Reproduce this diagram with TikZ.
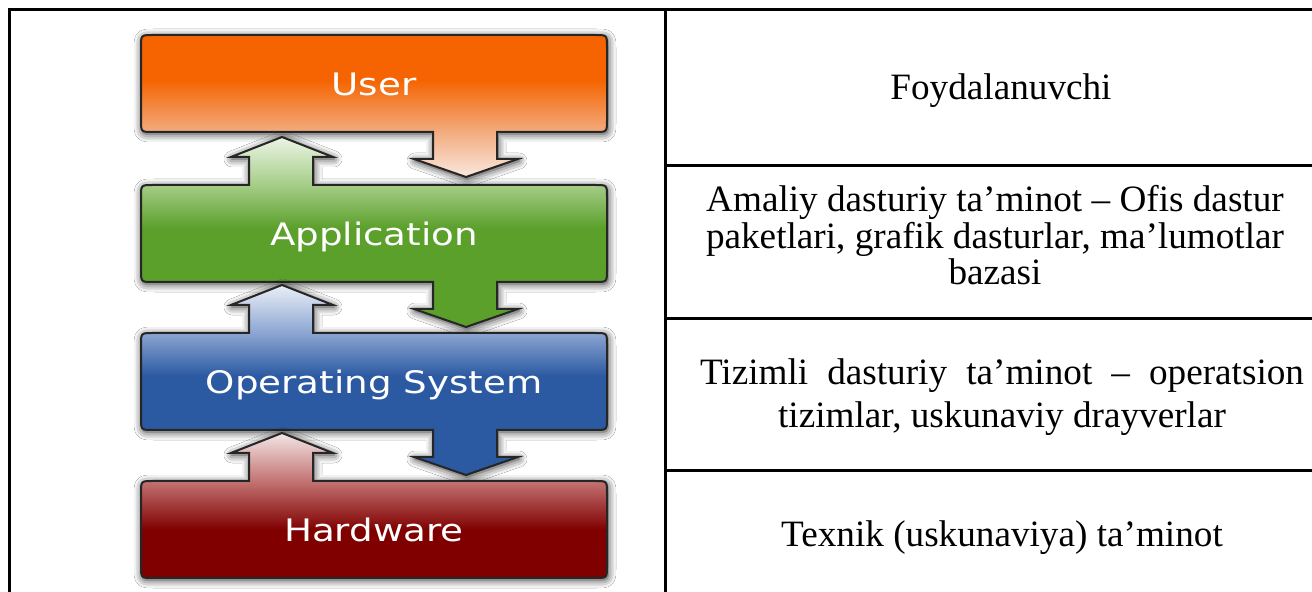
\documentclass[tikz,border=0pt]{standalone}
\usepackage{fontspec}
\setmainfont{Liberation Serif}
\newfontfamily\layerfont{DejaVu Sans}
\usetikzlibrary{shadows.blur}

\definecolor{userorange}{RGB}{245,100,0}
\definecolor{userpeach}{RGB}{242,172,128}
\definecolor{userpale}{RGB}{250,232,222}
\definecolor{appgreen}{RGB}{92,160,44}
\definecolor{applight}{RGB}{165,205,135}
\definecolor{apppale}{RGB}{236,244,230}
\definecolor{osblue}{RGB}{44,90,162}
\definecolor{oslight}{RGB}{140,165,210}
\definecolor{ospale}{RGB}{234,239,247}
\definecolor{hwred}{RGB}{128,0,0}
\definecolor{hwlight}{RGB}{195,115,115}
\definecolor{hwpale}{RGB}{243,230,230}

\pgfdeclareverticalshading{usershade}{100bp}{color(0bp)=(userpale); color(25bp)=(userpale); color(40.8bp)=(userpeach); color(59.2bp)=(userorange); color(100bp)=(userorange)}
\pgfdeclareverticalshading{appshade}{100bp}{color(0bp)=(appgreen); color(51.1bp)=(appgreen); color(62.4bp)=(applight); color(75bp)=(apppale); color(100bp)=(apppale)}
\pgfdeclareverticalshading{osshade}{100bp}{color(0bp)=(osblue); color(51.1bp)=(osblue); color(62.4bp)=(oslight); color(75bp)=(ospale); color(100bp)=(ospale)}
\pgfdeclareverticalshading{hwshade}{100bp}{color(0bp)=(hwred); color(41.6bp)=(hwred); color(58.4bp)=(hwlight); color(75bp)=(hwpale); color(100bp)=(hwpale)}

\newcommand{\uparr}[1]{-- (249,#1) -- (249,#1-28) -- (231,#1-28) -- (282,#1-48) -- (333,#1-28) -- (313,#1-28) -- (313,#1)}
\newcommand{\downarr}[1]{-- (497,#1) -- (497,#1+27) -- (518,#1+27) -- (466,#1+45) -- (414,#1+27) -- (433,#1+27) -- (433,#1)}
\newcommand{\layer}[6]{%
  \path[layer,shading=#3] (141,#2+12) .. controls (141,#2) .. (153,#2) #4
    -- (595,#2) .. controls (607,#2) .. (607,#2+12) -- (607,#2+85)
    .. controls (607,#2+97) .. (595,#2+97) #5 -- (153,#2+97)
    .. controls (141,#2+97) .. (141,#2+85) -- cycle;
  \node[layertext] (#1) at (374,#2+61) {\scalebox{1.2}[1]{#6}};}

\tikzset{
  layer/.style={draw=black!85,line width=1pt,
    blur shadow={shadow blur radius=4pt,shadow xshift=0.5pt,shadow yshift=-1pt,shadow opacity=85}},
  layertext/.style={anchor=base,text=white,inner sep=0pt,font=\layerfont\fontsize{15.5}{18}\selectfont},
  cell/.style={anchor=base,inner sep=0pt,align=center,font=\fontsize{18.6}{18.25}\selectfont},
  rule/.style={line width=1.5pt}
}

\begin{document}
\begin{tikzpicture}[x=0.5pt,y=-0.5pt]
    \useasboundingbox[fill=white] (0,0) rectangle (1312,592);
    % table frame
    \draw[rule] (9,592) -- (9,10) -- (1312,10);
    \draw[rule] (665,10) -- (665,592);
    \foreach \y in {166,319,471} \draw[rule] (665,\y) -- (1312,\y);

    % layer stack
    \layer{user}{35}{usershade}{}{\downarr{132}}{User}
    \layer{app}{185}{appshade}{\uparr{185}}{\downarr{282}}{Application}
    \layer{os}{333}{osshade}{\uparr{333}}{\downarr{430}}{Operating System}
    \layer{hw}{481}{hwshade}{\uparr{481}}{}{Hardware}

    % descriptions (base = last line)
    \node[cell] (userdesc) at (1001,100) {Foydalanuvchi};
    \node[cell] (appdesc) at (995,285) {Amaliy dasturiy ta’minot – Ofis dastur\\paketlari, grafik dasturlar, ma’lumotlar\\bazasi};
    \node[cell,font=\fontsize{18.6}{21.5}\selectfont] (osdesc) at (1002,428)
        {\makebox[302pt][s]{Tizimli dasturiy ta’minot – operatsion}\\tizimlar, uskunaviy drayverlar};
    \node[cell] (hwdesc) at (1002,547) {Texnik (uskunaviya) ta’minot};
\end{tikzpicture}
\end{document}
